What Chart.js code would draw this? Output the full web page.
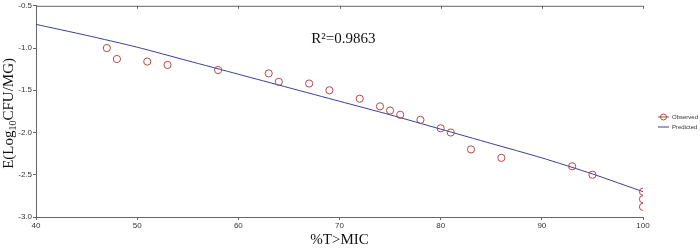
<!DOCTYPE html>
<html>
<head>
<meta charset="utf-8">
<script src="https://cdn.jsdelivr.net/npm/chart.js@4/dist/chart.umd.min.js"></script>
<style>
  html, body { margin: 0; padding: 0; background: #fff; }
  #wrap { width: 700px; height: 249px; position: relative; }
</style>
</head>
<body>
<div id="wrap"><canvas id="pkChart"></canvas></div>
<script>
'use strict';

// --- data ---
const OBS_X = [47, 48, 51, 53, 58, 63, 64, 67, 69, 72, 74, 75, 76, 78, 80, 81, 83, 86, 93, 95, 100, 100, 100];
const OBS_Y = [-1.0, -1.13, -1.16, -1.2, -1.26, -1.3, -1.4, -1.42, -1.5, -1.6, -1.69, -1.74, -1.79, -1.85, -1.95, -2.0, -2.2, -2.3, -2.4, -2.5, -2.7, -2.79, -2.88];
const PRED_X = [40, 45, 50, 55, 60, 65, 70, 75, 80, 85, 90, 95, 100];
const PRED_Y = [-0.72, -0.85, -0.99, -1.15, -1.31, -1.47, -1.63, -1.79, -1.96, -2.13, -2.30, -2.49, -2.70];
const X_TICKS = [40, 50, 60, 70, 80, 90, 100];
const Y_TICKS = [-0.5, -1.0, -1.5, -2.0, -2.5, -3.0];
const R2_TEXT = 'R²=0.9863';

const AXIS = '#666';
const OBS_COLOR = '#b5484a';
const PRED_COLOR = '#3b3f96';
const SERIF = '"Liberation Serif", "DejaVu Serif", serif';

const toXY = (xs, ys) => xs.map((x, i) => ({ x: x, y: ys[i] }));

// axis titles, R² note, top border and legend
const extras = {
  id: 'extras',
  afterDraw(chart) {
    const { ctx, chartArea: a, scales } = chart;
    ctx.save();

    // top border with tick marks
    ctx.strokeStyle = AXIS;
    ctx.lineWidth = 1;
    ctx.beginPath();
    ctx.moveTo(a.left, a.top + 0.5);
    ctx.lineTo(a.right, a.top + 0.5);
    X_TICKS.forEach(v => {
      const px = Math.round(scales.x.getPixelForValue(v)) + 0.5;
      ctx.moveTo(px, a.top);
      ctx.lineTo(px, a.top + 3);
    });
    ctx.stroke();

    // R² note
    ctx.fillStyle = '#111';
    ctx.font = '15px ' + SERIF;
    ctx.textBaseline = 'middle';
    ctx.textAlign = 'left';
    ctx.fillText(R2_TEXT, scales.x.getPixelForValue(67.2), scales.y.getPixelForValue(-0.89));

    // x title
    ctx.textAlign = 'center';
    ctx.fillText('%T>MIC', (a.left + a.right) / 2, 240);

    // y title with subscript
    ctx.translate(9, (a.top + a.bottom) / 2 + 2);
    ctx.rotate(-Math.PI / 2);
    const parts = [['E(Log', 15, 0], ['10', 10, 4], ['CFU/MG)', 15, 0]];
    let total = 0;
    parts.forEach(p => { ctx.font = p[1] + 'px ' + SERIF; total += ctx.measureText(p[0]).width; });
    let cx = -total / 2;
    ctx.textAlign = 'left';
    parts.forEach(p => {
      ctx.font = p[1] + 'px ' + SERIF;
      ctx.fillText(p[0], cx, p[2]);
      cx += ctx.measureText(p[0]).width;
    });
    ctx.setTransform(1, 0, 0, 1, 0, 0);

    // legend
    const lx = 658, ly = 117;
    ctx.font = '6px "Liberation Sans", Arial, sans-serif';
    ctx.textBaseline = 'middle';
    ctx.strokeStyle = OBS_COLOR;
    ctx.beginPath();
    ctx.moveTo(lx, ly); ctx.lineTo(lx + 11, ly);
    ctx.stroke();
    ctx.beginPath();
    ctx.arc(lx + 5.5, ly, 3, 0, Math.PI * 2);
    ctx.stroke();
    ctx.fillStyle = '#333';
    ctx.fillText('Observed', lx + 14, ly);
    ctx.strokeStyle = PRED_COLOR;
    ctx.beginPath();
    ctx.moveTo(lx, ly + 10); ctx.lineTo(lx + 11, ly + 10);
    ctx.stroke();
    ctx.fillText('Predicted', lx + 14, ly + 10);

    ctx.restore();
  }
};

new Chart(document.getElementById('pkChart').getContext('2d'), {
  type: 'scatter',
  data: {
    datasets: [
      {
        label: 'Observed',
        data: toXY(OBS_X, OBS_Y),
        borderColor: OBS_COLOR,
        backgroundColor: 'rgba(0,0,0,0)',
        pointRadius: 3.6,
        pointBorderWidth: 1,
        showLine: false,
      },
      {
        label: 'Predicted',
        data: toXY(PRED_X, PRED_Y),
        borderColor: PRED_COLOR,
        borderWidth: 1,
        pointRadius: 0,
        showLine: true,
        tension: 0.2,
      },
    ],
  },
  options: {
    responsive: true,
    maintainAspectRatio: false,
    animation: false,
    layout: { padding: { top: 5, right: 57, left: 0, bottom: 0 } },
    plugins: { legend: { display: false }, tooltip: { enabled: false } },
    scales: {
      x: {
        type: 'linear',
        min: 40,
        max: 100,
        afterFit: s => { s.height = 32; },
        afterBuildTicks: s => { s.ticks = X_TICKS.map(v => ({ value: v })); },
        border: { color: AXIS, width: 1 },
        grid: { drawOnChartArea: false, tickLength: 3, color: AXIS },
        ticks: { padding: 1, color: '#333', font: { size: 8, family: '"Liberation Sans", Arial, sans-serif' } },
      },
      y: {
        min: -3.0,
        max: -0.5,
        afterFit: s => { s.width = 36; },
        afterBuildTicks: s => { s.ticks = Y_TICKS.map(v => ({ value: v })); },
        border: { color: AXIS, width: 1 },
        grid: { drawOnChartArea: false, tickLength: 3, color: AXIS },
        ticks: {
          padding: 1,
          color: '#333',
          font: { size: 8, family: '"Liberation Sans", Arial, sans-serif' },
          callback: v => v.toFixed(1),
        },
      },
    },
  },
  plugins: [extras],
});
</script>
</body>
</html>
